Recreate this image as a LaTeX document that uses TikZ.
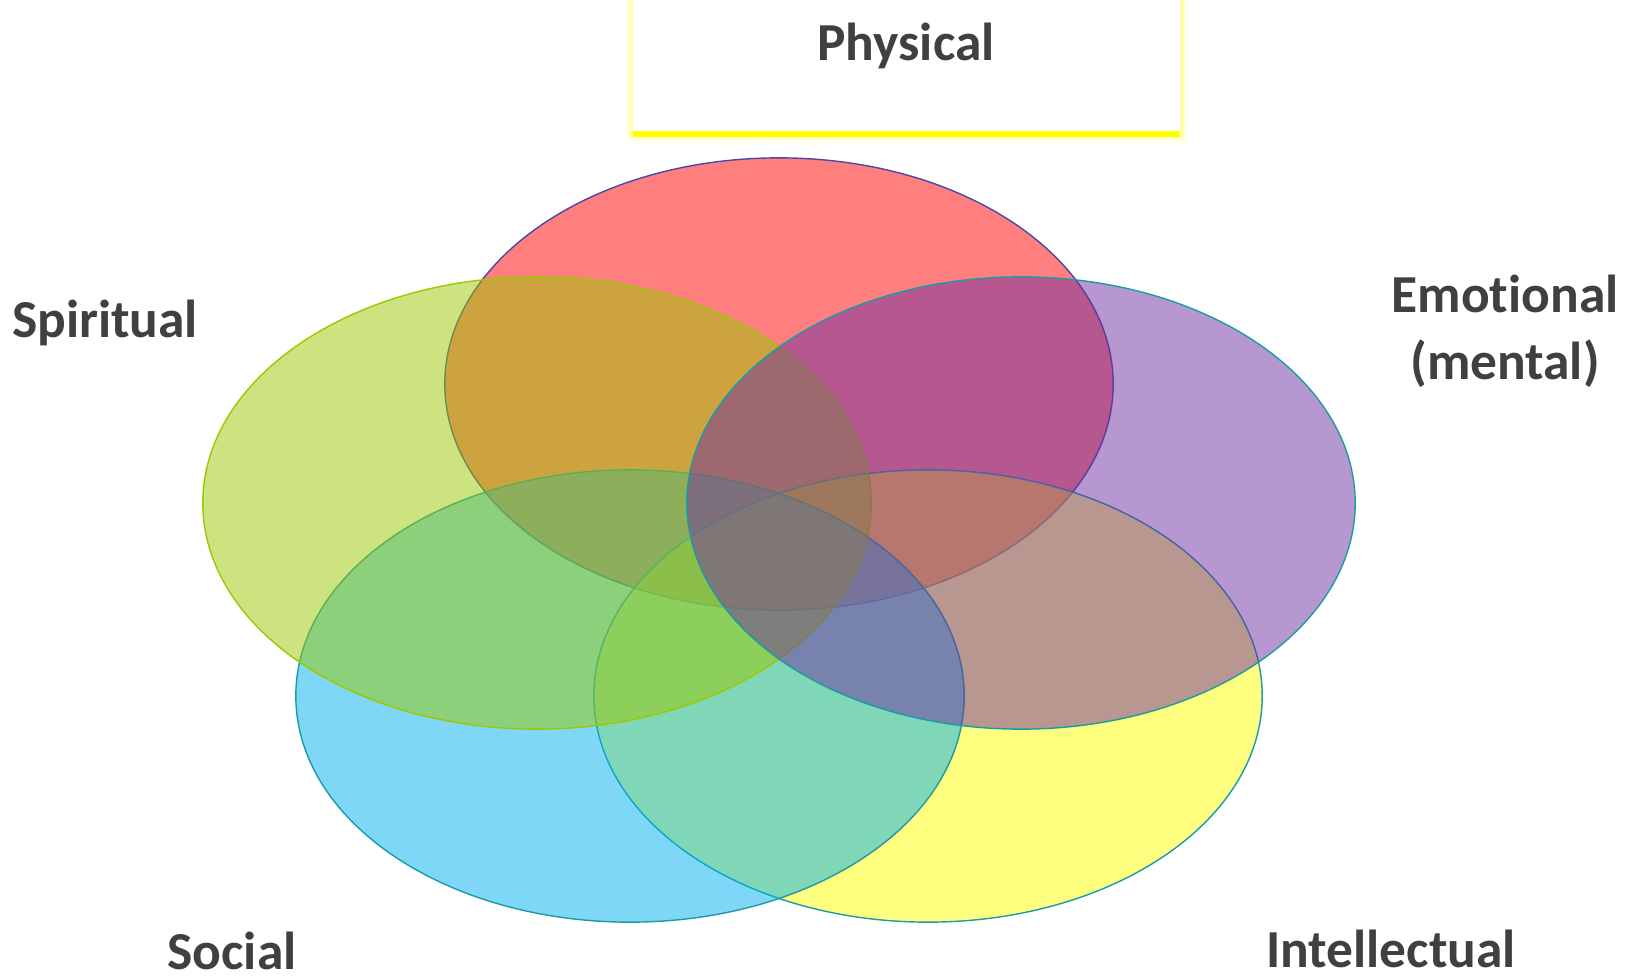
\documentclass[tikz,border=0pt]{standalone}
\usepackage{fontspec}
\setmainfont{Carlito}[Ligatures=NoCommon]
\usepackage{tikz}
\definecolor{txtgray}{HTML}{404040}
\definecolor{physred}{HTML}{FF0000}
\definecolor{spirgreen}{HTML}{9BC800}
\definecolor{emotpurple}{HTML}{7030A0}
\definecolor{socblue}{HTML}{00B0F0}
\definecolor{intelyellow}{HTML}{FFFF00}
\definecolor{rimblue}{HTML}{4848A8}
\definecolor{rimteal}{HTML}{1B9BA6}
\tikzset{
  label/.style={font=\fontsize{15.2}{19}\selectfont\bfseries, text=txtgray, align=center, inner sep=0pt},
  area/.style={fill opacity=0.5, line width=0.4pt},
}

\begin{document}
\begin{tikzpicture}[x=0.01cm, y=-0.01cm]
  \useasboundingbox (0,0) rectangle (1637,979);

  % title box with its yellow glow
  \foreach \w/\o in {16/0.05, 12/0.08, 8/0.12, 5/0.2} {
    \draw[intelyellow, line width=\w*0.01cm, opacity=\o] (633,-10) -- (633,135) -- (1180,135) -- (1180,-10);
  }
  \fill[white] (633,-10) rectangle (1180,132);
  \draw[intelyellow, line width=0.06cm] (633,134) -- (1180,134);

  % the five ellipses
  \draw[area, fill=physred, draw=rimblue] (779,384) ellipse [x radius=3.34cm, y radius=2.26cm];
  \draw[area, fill=intelyellow, draw=rimteal] (928,696) ellipse [x radius=3.34cm, y radius=2.26cm];
  \draw[area, fill=socblue, draw=rimteal] (630,696) ellipse [x radius=3.34cm, y radius=2.26cm];
  \draw[area, fill=spirgreen, draw=spirgreen] (537,503) ellipse [x radius=3.34cm, y radius=2.26cm];
  \draw[area, fill=emotpurple, draw=rimteal] (1021,503) ellipse [x radius=3.34cm, y radius=2.26cm];

  \node[label] (phys) at (906,46) {Physical};
  \node[label] (spir) at (105,323) {Spiritual};
  \node[label] (emot) at (1505,331) {Emotional\\(mental)};
  \node[label] (soc) at (232,951) {Social};
  \node[label] (intel) at (1391,949) {Intellectual};
\end{tikzpicture}
\end{document}
